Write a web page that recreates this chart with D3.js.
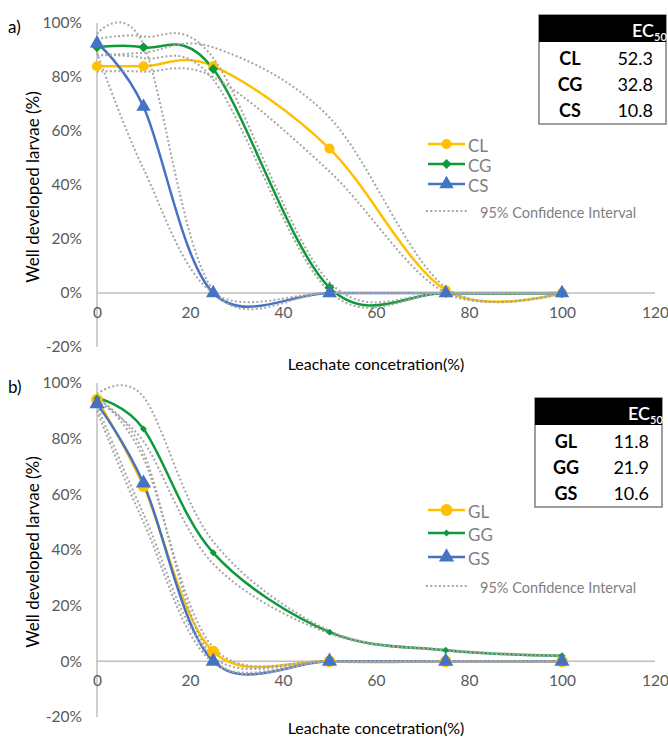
<!DOCTYPE html>
<html>
<head>
<meta charset="utf-8">
<script src="https://cdn.jsdelivr.net/npm/d3@7"></script>
<style>
  body { margin: 0; background: #fff; }
  svg { font-family: Lato, "Open Sans", sans-serif; }
</style>
</head>
<body>
<svg width="668" height="739"></svg>
<script>
// concentrations tested (%)
const conc = [0, 10, 25, 50, 75, 100]
const xTicks = [0, 20, 40, 60, 80, 100, 120]
const yTicks = [-20, 0, 20, 40, 60, 80, 100]

// panel a
const namesA = ['CL', 'CG', 'CS']
const CL = [84, 84, 84, 53.5, 1, 0]
const CG = [91, 91, 83, 2, 0, 0]
const CS = [92.5, 69, 0, 0, 0, 0]
const CL_hi = [88, 89, 91, 65, 2, 0]
const CL_lo = [82, 82, 80, 45, 0, 0]
const CG_hi = [94, 95, 87, 4, 0, 0]
const CG_lo = [88, 87, 79, 0.5, 0, 0]
const CS_hi = [96, 92, 1, 0, 0, 0]
const CS_lo = [89, 46, 0, 0, 0, 0]
const ec50A = ['52.3', '32.8', '10.8']

// panel b
const namesB = ['GL', 'GG', 'GS']
const GL = [94, 63, 3.5, 0, 0, 0]
const GG = [94.5, 83.5, 39, 10.5, 4, 2]
const GS = [92.5, 64, 0, 0, 0, 0]
const GL_hi = [95, 73, 5, 0, 0, 0]
const GL_lo = [92, 53, 1.5, 0, 0, 0]
const GG_hi = [96, 95, 43, 11, 4.2, 2.2]
const GG_lo = [93, 79, 35, 10, 3.8, 1.8]
const GS_hi = [94, 75, 1, 0, 0, 0]
const GS_lo = [90, 50, -0.5, 0, 0, 0]
const ec50B = ['11.8', '21.9', '10.6']

const colors = ['#ffc000', '#0e9a3a', '#4472c4']
const symbols = ['circle', 'diamond', 'triangle']

const svg = d3.select('svg')
const x = d3.scaleLinear().domain([0, 120]).range([97, 655])

const markerPath = (type, s) => {
  if (type === 'circle') return d3.symbol(d3.symbolCircle, s.circle)()
  if (type === 'triangle') return d3.symbol(d3.symbolTriangle, s.triangle)()
  return d3.symbol(d3.symbolSquare, s.diamond)()
}

const drawPanel = opts => {
  const { top, bottom, titleY, label, names, series, ci, ec50, legendY, table, sizes } = opts
  const y = d3.scaleLinear().domain([-20, 100]).range([bottom, top])
  const g = svg.append('g')

  // axes lines
  g.append('line')
    .attr('x1', x(0)).attr('x2', x(0))
    .attr('y1', y(100)).attr('y2', y(-20))
    .attr('stroke', '#bfbfbf').attr('stroke-width', 1.5)
  g.append('line')
    .attr('x1', x(0)).attr('x2', x(120))
    .attr('y1', y(0)).attr('y2', y(0))
    .attr('stroke', '#bfbfbf').attr('stroke-width', 1.5)

  const yAxis = g.append('g')
    .attr('transform', `translate(${x(0)},0)`)
    .call(d3.axisLeft(y).tickValues(yTicks).tickSize(0).tickPadding(15).tickFormat(d => d + '%'))
  const xAxis = g.append('g')
    .attr('transform', `translate(0,${y(0)})`)
    .call(d3.axisBottom(x).tickValues(xTicks).tickSize(0).tickPadding(14))
  ;[yAxis, xAxis].forEach(a => {
    a.select('.domain').remove()
    a.selectAll('text').attr('fill', '#595959').attr('font-size', 15.5).attr('font-family', 'Lato, sans-serif')
  })

  // titles
  g.append('text')
    .attr('transform', `translate(32,${(y(100) + y(-20)) / 2 + 2}) rotate(-90)`)
    .attr('text-anchor', 'middle').attr('dominant-baseline', 'central')
    .attr('font-size', 17).attr('fill', '#000')
    .text('Well developed larvae (%)')
  g.append('text')
    .attr('x', 376).attr('y', titleY)
    .attr('text-anchor', 'middle').attr('dominant-baseline', 'central')
    .attr('font-size', 16).attr('fill', '#000')
    .text('Leachate concetration(%)')
  g.append('text')
    .attr('x', 8).attr('y', top + 3)
    .attr('dominant-baseline', 'central')
    .attr('font-size', 17).attr('fill', '#000')
    .text(label)

  const line = d3.line()
    .x((d, i) => x(conc[i]))
    .y(d => y(d))
    .curve(d3.curveCardinal.tension(0))

  // series lines
  series.forEach((s, k) => {
    g.append('path')
      .attr('d', line(s))
      .attr('fill', 'none')
      .attr('stroke', colors[k])
      .attr('stroke-width', 2.5)
  })

  // confidence intervals
  ci.forEach(c => {
    g.append('path')
      .attr('d', line(c))
      .attr('fill', 'none')
      .attr('stroke', '#a6a6a6')
      .attr('stroke-width', 2)
      .attr('stroke-dasharray', '2,2.3')
  })

  // markers
  series.forEach((s, k) => {
    g.selectAll(null)
      .data(s)
      .join('path')
      .attr('d', markerPath(symbols[k], sizes))
      .attr('transform', (d, i) => `translate(${x(conc[i])},${y(d)})` + (symbols[k] === 'diamond' ? ' rotate(45)' : ''))
      .attr('fill', colors[k])
  })

  // legend
  const lg = g.append('g')
  names.forEach((n, k) => {
    const ly = legendY[k]
    lg.append('line')
      .attr('x1', 428).attr('x2', 465).attr('y1', ly).attr('y2', ly)
      .attr('stroke', colors[k]).attr('stroke-width', 2.5)
    lg.append('path')
      .attr('d', markerPath(symbols[k], sizes))
      .attr('transform', `translate(446.5,${ly})` + (symbols[k] === 'diamond' ? ' rotate(45)' : ''))
      .attr('fill', colors[k])
    lg.append('text')
      .attr('x', 468).attr('y', ly + 1)
      .attr('dominant-baseline', 'central')
      .attr('font-size', 17).attr('fill', '#7f7f7f')
      .text(n)
  })
  lg.append('line')
    .attr('x1', 426).attr('x2', 467).attr('y1', legendY[3]).attr('y2', legendY[3])
    .attr('stroke', '#a6a6a6').attr('stroke-width', 2).attr('stroke-dasharray', '2,2.3')
  lg.append('text')
    .attr('x', 480).attr('y', legendY[3] + 1)
    .attr('dominant-baseline', 'central')
    .attr('font-size', 14.5).attr('fill', '#7f7f7f')
    .text('95% Confidence Interval')

  // EC50 table
  const t = g.append('g')
  t.append('rect')
    .attr('x', table.x).attr('y', table.y).attr('width', table.w).attr('height', table.h)
    .attr('fill', '#fff').attr('stroke', '#7f7f7f').attr('stroke-width', 1.5)
  t.append('rect')
    .attr('x', table.x).attr('y', table.y).attr('width', table.w).attr('height', 27)
    .attr('fill', '#000')
  const hd = t.append('text')
    .attr('x', table.x + table.w - 34).attr('y', table.y + 15)
    .attr('dominant-baseline', 'central')
    .attr('font-size', 18).attr('fill', '#fff').attr('font-weight', 600)
  hd.append('tspan').text('EC')
  hd.append('tspan').attr('font-size', 11).attr('dy', 6).text('50')
  names.forEach((n, k) => {
    const ry = table.y + 43 + k * 26
    t.append('text')
      .attr('x', table.x + 31).attr('y', ry)
      .attr('text-anchor', 'middle').attr('dominant-baseline', 'central')
      .attr('font-size', 18).attr('font-weight', 700).attr('fill', '#000')
      .text(n)
    t.append('text')
      .attr('x', table.x + table.w - 13).attr('y', ry)
      .attr('text-anchor', 'end').attr('dominant-baseline', 'central')
      .attr('font-size', 18).attr('fill', '#000')
      .text(ec50[k])
  })
}

drawPanel({
  top: 23, bottom: 347, titleY: 363, label: 'a)',
  names: namesA,
  series: [CL, CG, CS],
  ci: [CL_hi, CL_lo, CG_hi, CG_lo, CS_hi, CS_lo],
  ec50: ec50A,
  legendY: [144, 164, 184, 211],
  table: { x: 539, y: 15, w: 127, h: 109 },
  sizes: { circle: 80, diamond: 50, triangle: 90 }
})

drawPanel({
  top: 383, bottom: 717, titleY: 727, label: 'b)',
  names: namesB,
  series: [GL, GG, GS],
  ci: [GL_hi, GL_lo, GG_hi, GG_lo, GS_hi, GS_lo],
  ec50: ec50B,
  legendY: [510, 533, 557, 586],
  table: { x: 535, y: 398, w: 127, h: 109 },
  sizes: { circle: 110, diamond: 24, triangle: 100 }
})
</script>
</body>
</html>
